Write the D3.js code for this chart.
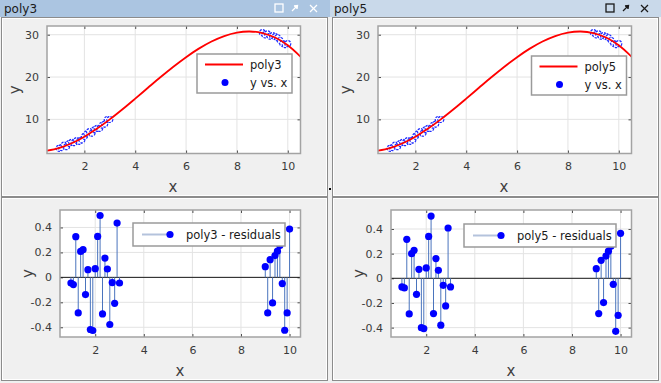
<!DOCTYPE html>
<html>
<head>
<meta charset="utf-8">
<script src="https://cdn.jsdelivr.net/npm/d3@7"></script>
<style>
  body { margin: 0; background: #f0f0f0; }
  svg { display: block; font-family: "DejaVu Sans", sans-serif; }
</style>
</head>
<body>
<div id="chart"></div>
<script>
// fitted curve (both fits look the same)
const fitX = [0.53, 1, 1.5, 2, 2.5, 3, 3.5, 4, 4.5, 5, 5.5, 6, 6.5, 7, 7.5, 8, 8.5, 9, 9.5, 10, 10.5];
const fitY = [2.59, 3.2, 4.34, 5.9, 7.81, 10.0, 12.39, 14.9, 17.46, 20.0, 22.44, 24.7, 26.71, 28.4, 29.69, 30.5, 30.76, 30.4, 29.34, 27.5, 24.81];

// measured points
const xData = [1.0, 1.1, 1.2, 1.3, 1.4, 1.5, 1.6, 1.7, 1.8, 1.9, 2.0, 2.1, 2.2, 2.3, 2.4, 2.5, 2.6, 2.7, 2.8, 2.9, 3.0,
               9.0, 9.1, 9.2, 9.3, 9.4, 9.5, 9.6, 9.7, 9.8, 9.9, 10.0];
const yData = [3.16, 3.33, 3.93, 3.54, 4.28, 4.56, 4.48, 4.98, 4.81, 5.13, 5.97, 6.59, 7.12, 6.72, 7.56, 7.88, 7.85, 8.62, 8.89, 9.98, 9.96,
               30.49, 29.96, 30.21, 29.65, 29.78, 29.55, 29.29, 28.65, 27.91, 27.65, 27.89];

// residuals
const res3 = [-0.045, -0.058, 0.326, -0.285, 0.208, 0.222, -0.138, 0.062, -0.418, -0.426, 0.07, 0.328, 0.496, -0.293, 0.155, 0.067, -0.378, -0.042, -0.208, 0.435, -0.045,
              0.086, -0.285, 0.142, -0.205, 0.175, 0.21, 0.255, -0.05, -0.424, -0.285, 0.387];
const res5 = [-0.07, -0.078, 0.316, -0.289, 0.2, 0.227, -0.13, 0.073, -0.4, -0.408, 0.084, 0.34, 0.505, -0.286, 0.16, 0.065, -0.38, -0.057, -0.224, 0.408, -0.07,
              0.078, -0.286, 0.146, -0.197, 0.18, 0.22, 0.26, -0.049, -0.43, -0.3, 0.365];

const xTicks = [2, 4, 6, 8, 10];
const yTicksFit = [10, 20, 30];
const yTicksRes = [-0.4, -0.2, 0, 0.2, 0.4];

const W = 661, H = 383;
const svg = d3.select("#chart").append("svg")
    .attr("width", W).attr("height", H);

svg.append("rect").attr("width", W).attr("height", H).attr("fill", "#f0f0f0");

// window title bars
function titleBar(x, w, label, fill, btnColor) {
    svg.append("rect").attr("x", x).attr("y", 0).attr("width", w).attr("height", 17).attr("fill", fill);
    svg.append("text").attr("x", x + 4).attr("y", 13).attr("font-size", 12)
        .attr("fill", "#1a1a1a").text(label);
    const bx = x + w - 52;
    const b = svg.append("g").attr("stroke", btnColor).attr("fill", "none").attr("stroke-width", 1.3);
    b.append("rect").attr("x", bx - 3).attr("y", 4).attr("width", 8).attr("height", 8);
    b.append("line").attr("x1", bx + 14).attr("y1", 11).attr("x2", bx + 19).attr("y2", 6);
    b.append("path").attr("d", `M${bx + 16},6 L${bx + 19.5},5.5 L${bx + 19},9`).attr("fill", btnColor);
    b.append("line").attr("x1", bx + 32).attr("y1", 5).attr("x2", bx + 39).attr("y2", 12);
    b.append("line").attr("x1", bx + 39).attr("y1", 5).attr("x2", bx + 32).attr("y2", 12);
}
titleBar(0, 330, "poly3", "#abc5e1", "#ffffff");
titleBar(330, 331, "poly5", "#c9d9ea", "#1a1a1a");

// sub-panel frames
function frame(x, y, w, h) {
    svg.append("rect").attr("x", x + 0.5).attr("y", y + 0.5).attr("width", w).attr("height", h)
        .attr("fill", "none").attr("stroke", "#8c8c8c");
    svg.append("rect").attr("x", x + 1.5).attr("y", y + 1.5).attr("width", w - 2).attr("height", h - 2)
        .attr("fill", "none").attr("stroke", "#ffffff");
}
frame(1, 17, 326, 179);
frame(1, 197, 326, 183);
frame(332, 17, 326, 179);
frame(332, 197, 326, 183);
svg.append("rect").attr("x", 329).attr("y", 188).attr("width", 2).attr("height", 2).attr("fill", "#000");

// common axes box: grid, ticks, labels
function axesBox(box, x, y, yTicks, fmt) {
    const g = svg.append("g");
    g.append("rect").attr("x", box.l).attr("y", box.t)
        .attr("width", box.r - box.l).attr("height", box.b - box.t).attr("fill", "#fff");
    const grid = g.append("g").attr("stroke", "#e3e3e3").attr("stroke-width", 1);
    xTicks.forEach(t => grid.append("line")
        .attr("x1", x(t)).attr("x2", x(t)).attr("y1", box.t).attr("y2", box.b));
    yTicks.forEach(t => grid.append("line")
        .attr("x1", box.l).attr("x2", box.r).attr("y1", y(t)).attr("y2", y(t)));

    // axes via d3, ticks pointing inward
    const xa = g.append("g").attr("transform", `translate(0,${box.b})`)
        .call(d3.axisBottom(x).tickValues(xTicks).tickSize(-3).tickPadding(9).tickFormat(d3.format("d")));
    const xt = g.append("g").attr("transform", `translate(0,${box.t})`)
        .call(d3.axisTop(x).tickValues(xTicks).tickSize(-3).tickFormat(""));
    const ya = g.append("g").attr("transform", `translate(${box.l},0)`)
        .call(d3.axisLeft(y).tickValues(yTicks).tickSize(-3).tickPadding(8).tickFormat(fmt));
    const yr = g.append("g").attr("transform", `translate(${box.r},0)`)
        .call(d3.axisRight(y).tickValues(yTicks).tickSize(-3).tickFormat(""));
    [xa, xt, ya, yr].forEach(a => {
        a.select(".domain").remove();
        a.selectAll(".tick line").attr("stroke", "#4d4d4d");
        a.selectAll("text").attr("fill", "#3a3a3a").attr("font-size", 11)
            .attr("font-family", "DejaVu Sans, sans-serif");
    });
    return g;
}

function closeBox(g, box) {
    g.append("rect").attr("x", box.l).attr("y", box.t)
        .attr("width", box.r - box.l).attr("height", box.b - box.t)
        .attr("fill", "none").attr("stroke", "#a3a3a3").attr("stroke-width", 1.5);
}

function axisLabels(box, cx, xLabelY) {
    svg.append("text").attr("x", cx).attr("y", xLabelY).attr("text-anchor", "middle")
        .attr("font-size", 15).attr("fill", "#404040").text("x");
    svg.append("text").attr("transform", `translate(${box.l - 27},${(box.t + box.b) / 2}) rotate(-90)`)
        .attr("text-anchor", "middle").attr("font-size", 15).attr("fill", "#404040").text("y");
}

function fitPanel(ox, name, legendBox) {
    const box = { l: ox + 47, r: ox + 300.5, t: 26, b: 153.5 };
    const x = d3.scaleLinear().domain([0.53, 10.5]).range([box.l, box.r]);
    const y = d3.scaleLinear().domain([1.93, 32.06]).range([box.b, box.t]);
    const g = axesBox(box, x, y, yTicksFit, d3.format("d"));

    const clipId = "clip-" + name;
    svg.append("clipPath").attr("id", clipId).append("rect")
        .attr("x", box.l).attr("y", box.t).attr("width", box.r - box.l).attr("height", box.b - box.t);

    const pts = xData.map((v, i) => [v, yData[i]]);
    g.append("g").attr("clip-path", `url(#${clipId})`).selectAll("circle").data(pts).enter()
        .append("circle")
        .attr("cx", d => x(d[0])).attr("cy", d => y(d[1])).attr("r", 3)
        .attr("fill", "#fff").attr("stroke", "#1f2dff").attr("stroke-width", 1.2)
        .attr("stroke-dasharray", "2.4,1.2");

    const line = d3.line().x(d => x(d[0])).y(d => y(d[1])).curve(d3.curveCatmullRom);
    g.append("path").datum(fitX.map((v, i) => [v, fitY[i]]))
        .attr("clip-path", `url(#${clipId})`)
        .attr("d", line).attr("fill", "none").attr("stroke", "#ff0000").attr("stroke-width", 1.8);

    closeBox(g, box);
    axisLabels(box, ox + 173, 192);

    // legend
    const lg = svg.append("g").attr("transform", `translate(${legendBox.x},${legendBox.y})`);
    lg.append("rect").attr("width", 95).attr("height", 39).attr("fill", "#fff")
        .attr("stroke", "#9a9a9a").attr("stroke-width", 1.5);
    lg.append("line").attr("x1", 8).attr("x2", 46).attr("y1", 10.5).attr("y2", 10.5)
        .attr("stroke", "#ff0000").attr("stroke-width", 2);
    lg.append("text").attr("x", 53).attr("y", 14.5).attr("font-size", 11.5).attr("fill", "#1a1a1a").text(name);
    lg.append("circle").attr("cx", 28).attr("cy", 28.5).attr("r", 3.5).attr("fill", "#0000ff");
    lg.append("text").attr("x", 53).attr("y", 32.5).attr("font-size", 11.5).attr("fill", "#1a1a1a").text("y vs. x");
}

function residPanel(ox, name, res, yDom, legendBox) {
    const box = { l: ox + 60, r: ox + 300.5, t: 210, b: 337 };
    const x = d3.scaleLinear().domain([0.55, 10.45]).range([box.l, box.r]);
    const y = d3.scaleLinear().domain(yDom).range([box.b, box.t]);
    const g = axesBox(box, x, y, yTicksRes, d => String(d));

    g.append("line").attr("x1", box.l).attr("x2", box.r).attr("y1", y(0)).attr("y2", y(0))
        .attr("stroke", "#1a1a1a").attr("stroke-width", 1);

    const pts = xData.map((v, i) => [v, res[i]]);
    g.append("g").selectAll("line").data(pts).enter().append("line")
        .attr("x1", d => x(d[0])).attr("x2", d => x(d[0]))
        .attr("y1", y(0)).attr("y2", d => y(d[1]))
        .attr("stroke", "#4a74bd").attr("stroke-width", 1);
    g.append("g").selectAll("circle").data(pts).enter().append("circle")
        .attr("cx", d => x(d[0])).attr("cy", d => y(d[1])).attr("r", 3.6)
        .attr("fill", "#0000ff");

    closeBox(g, box);
    axisLabels(box, ox + 180, 376);

    const lg = svg.append("g").attr("transform", `translate(${legendBox.x},${legendBox.y})`);
    lg.append("rect").attr("width", 152).attr("height", 23).attr("fill", "#fff")
        .attr("stroke", "#9a9a9a").attr("stroke-width", 1.5);
    lg.append("line").attr("x1", 9).attr("x2", 37).attr("y1", 11.5).attr("y2", 11.5)
        .attr("stroke", "#b4c3dc").attr("stroke-width", 2);
    lg.append("circle").attr("cx", 37).attr("cy", 11.5).attr("r", 3.6).attr("fill", "#0000ff");
    lg.append("text").attr("x", 53).attr("y", 15.5).attr("font-size", 11.5).attr("fill", "#1a1a1a")
        .text(name + " - residuals");
}

fitPanel(0, "poly3", { x: 197, y: 54 });
fitPanel(331, "poly5", { x: 531.5, y: 56 });
residPanel(0, "poly3", res3, [-0.478, 0.54], { x: 133, y: 223 });
residPanel(331, "poly5", res5, [-0.476, 0.554], { x: 464, y: 224 });
</script>
</body>
</html>
